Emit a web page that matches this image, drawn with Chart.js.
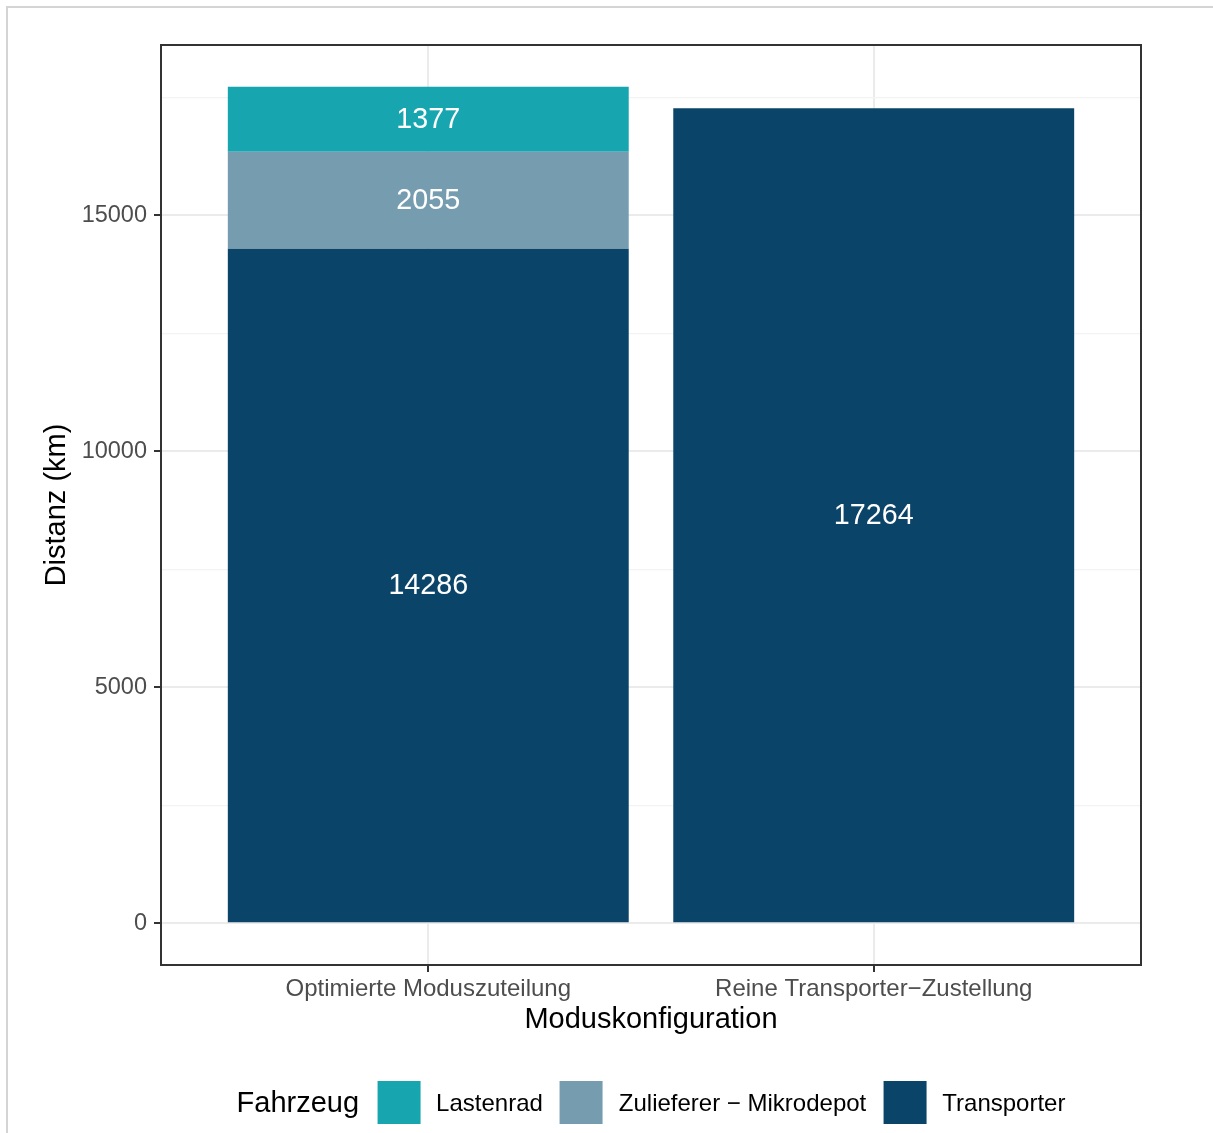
<!DOCTYPE html>
<html lang="de">
<head>
<meta charset="utf-8">
<title>Distanz nach Moduskonfiguration</title>
<script src="https://cdn.jsdelivr.net/npm/chart.js@4.4.1/dist/chart.umd.min.js"></script>
<style>
  html, body { margin: 0; padding: 0; background: #fff; }
  body {
    width: 1213px; height: 1133px; position: relative; overflow: hidden;
    font-family: 'Liberation Sans', Arial, Helvetica, sans-serif;
  }
  #frame {
    position: absolute; left: 6px; top: 6px; width: 1400px; height: 1400px;
    border-top: 2px solid #d4d4d4; border-left: 2px solid #d4d4d4;
  }
  #chart { position: absolute; left: 0; top: 0; }
  #legend {
    position: absolute; top: 1081px; left: 651px; transform: translateX(-50%);
    display: flex; align-items: center; height: 43px; white-space: nowrap;
  }
  #legend .title { font-size: 29px; color: #000; margin-right: 18px; }
  #legend .key   { width: 43px; height: 43px; margin-right: 16px; }
  #legend .label { font-size: 24px; color: #000; margin-right: 17px; }
  #legend .label:last-child { margin-right: 0; }
</style>
</head>
<body>
<div id="frame"></div>
<canvas id="chart" width="1213" height="1133"></canvas>
<div id="legend"></div>

<script>
'use strict';

/* ─── Data ─── */
const categories     = ['Optimierte Moduszuteilung', 'Reine Transporter\u2212Zustellung'];
const transporter    = [14286, 17264];
const zulieferer     = [2055, null];
const lastenrad      = [1377, null];
const yTicks         = [0, 5000, 10000, 15000];
const yMinorTicks    = [2500, 7500, 12500, 17500];

// stacking order, bottom first
const series = [
  { name: 'Transporter',                 values: transporter, color: '#0b4469' },
  { name: 'Zulieferer \u2212 Mikrodepot', values: zulieferer,  color: '#769caf' },
  { name: 'Lastenrad',                   values: lastenrad,   color: '#17a6b0' }
];

const FONT = "'Liberation Sans', Arial, Helvetica, sans-serif";
Chart.defaults.font.family = FONT;

/* ─── Scale helpers ─── */
const xPos   = categories.map((c, i) => i + 1);
const totals = categories.map((c, i) => series.reduce((s, d) => s + (d.values[i] || 0), 0));
const yTop   = Math.max(...totals);
const yPad   = yTop * 0.05;           // ggplot-style 5% expansion
const isMajor = v => yTicks.includes(v);

function toPoints(values) {
  return values
    .map((v, i) => ({ x: xPos[i], y: v }))
    .filter(p => p.y !== null);
}

/* ─── Plugins ─── */
const panelBorder = {
  id: 'panelBorder',
  afterDraw(chart) {
    const { ctx, chartArea: a } = chart;
    ctx.save();
    ctx.strokeStyle = '#333333';
    ctx.lineWidth = 2;
    ctx.strokeRect(a.left, a.top, a.right - a.left, a.bottom - a.top);
    ctx.restore();
  }
};

const segmentLabels = {
  id: 'segmentLabels',
  afterDatasetsDraw(chart) {
    const { ctx } = chart;
    ctx.save();
    ctx.fillStyle = '#ffffff';
    ctx.font = '28.7px ' + FONT;
    ctx.textAlign = 'center';
    ctx.textBaseline = 'middle';
    chart.data.datasets.forEach((ds, i) => {
      chart.getDatasetMeta(i).data.forEach((bar, j) => {
        const { x, y, base } = bar.getProps(['x', 'y', 'base'], true);
        ctx.fillText(String(ds.data[j].y), x, (y + base) / 2 + 1);
      });
    });
    ctx.restore();
  }
};

/* ─── Chart ─── */
new Chart(document.getElementById('chart').getContext('2d'), {
  type: 'bar',
  data: {
    datasets: series.map(s => ({
      label: s.name,
      data: toPoints(s.values),
      backgroundColor: s.color,
      borderWidth: 0,
      categoryPercentage: 1,
      barPercentage: 0.9
    }))
  },
  options: {
    responsive: false,
    animation: false,
    devicePixelRatio: 1,
    layout: { padding: { left: 40, top: 45, right: 72, bottom: 96 } },
    plugins: {
      legend:  { display: false },
      tooltip: { enabled: false }
    },
    scales: {
      x: {
        type: 'linear',
        stacked: true,
        offset: false,
        min: 1 - 0.6,
        max: categories.length + 0.6,
        afterBuildTicks: s => { s.ticks = xPos.map(v => ({ value: v })); },
        afterFit: s => { s.height = 72; },
        ticks: {
          callback: v => categories[v - 1] ?? '',
          color: '#4d4d4d',
          font: { size: 24 },
          padding: 3,
          maxRotation: 0,
          autoSkip: false
        },
        grid: {
          offset: false,
          color: '#ebebeb',
          lineWidth: 2,
          tickLength: 7,
          tickColor: '#333333',
          tickWidth: 2
        },
        border: { display: false },
        title: {
          display: true,
          text: 'Moduskonfiguration',
          color: '#000',
          font: { size: 29, lineHeight: 1.2 },
          padding: 0
        }
      },
      y: {
        stacked: true,
        min: -yPad,
        max: yTop + yPad,
        afterBuildTicks: s => {
          s.ticks = [...yMinorTicks, ...yTicks].sort((a, b) => a - b).map(v => ({ value: v }));
        },
        afterFit: s => { s.width = 121; },
        ticks: {
          callback: v => isMajor(v) ? String(v) : '',
          color: '#4d4d4d',
          font: { size: 23.5 },
          padding: 7,
          autoSkip: false
        },
        grid: {
          color: c => isMajor(c.tick.value) ? '#ebebeb' : '#f3f3f3',
          lineWidth: c => isMajor(c.tick.value) ? 2 : 1.2,
          tickLength: 7,
          tickColor: c => isMajor(c.tick.value) ? '#333333' : 'rgba(0,0,0,0)',
          tickWidth: 2
        },
        border: { display: false },
        title: {
          display: true,
          text: 'Distanz (km)',
          color: '#000',
          font: { size: 29, lineHeight: 1.2 },
          padding: 0
        }
      }
    }
  },
  plugins: [panelBorder, segmentLabels]
});

/* ─── Legend (top of stack first) ─── */
const legendEl = document.getElementById('legend');
legendEl.innerHTML = '<span class="title">Fahrzeug</span>' +
  series.slice().reverse().map(s =>
    `<span class="key" style="background:${s.color}"></span><span class="label">${s.name}</span>`
  ).join('');
</script>
</body>
</html>
